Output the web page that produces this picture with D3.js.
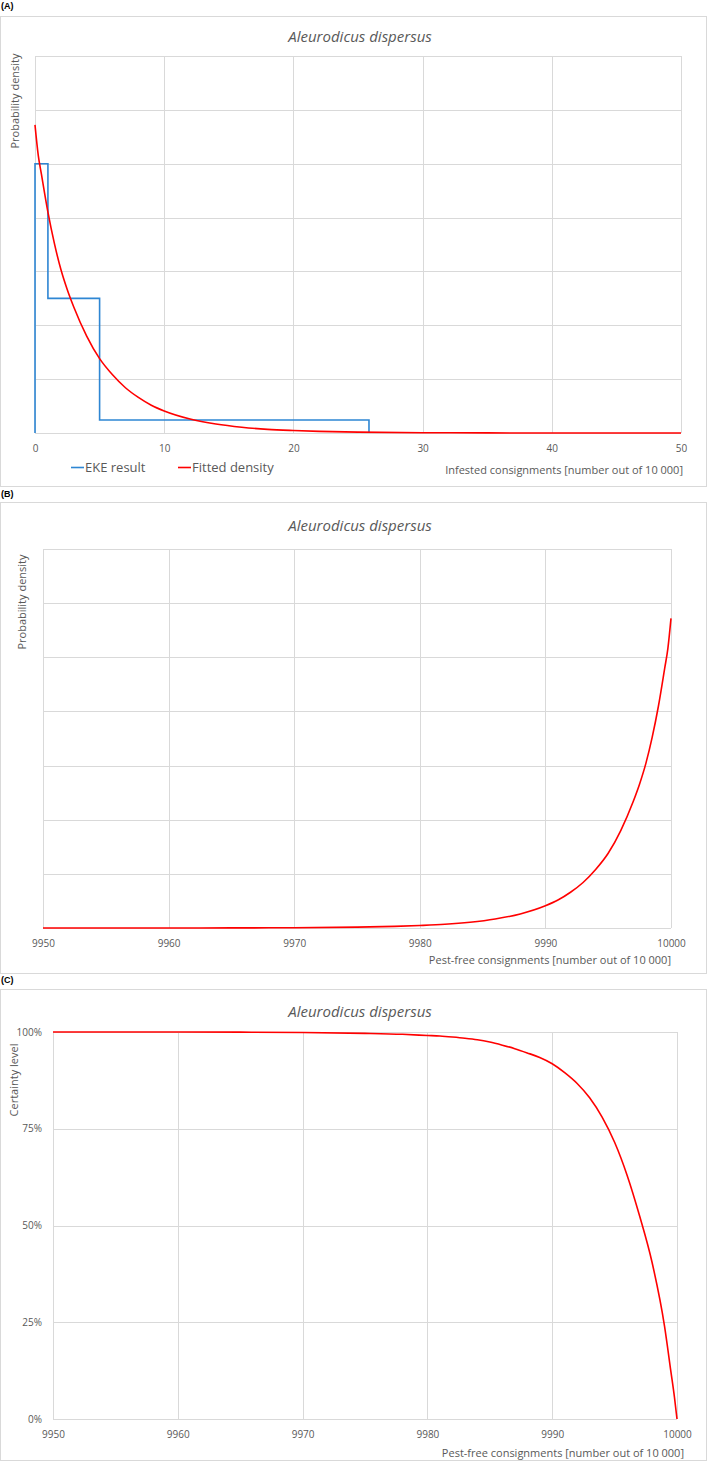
<!DOCTYPE html>
<html>
<head>
<meta charset="utf-8">
<script src="https://cdn.jsdelivr.net/npm/d3@7"></script>
<style>
  body { margin: 0; background: #fff; }
  text { font-family: 'Open Sans', sans-serif; fill: #595959; }
</style>
</head>
<body>
<svg id="chart" width="709" height="1461"></svg>
<script>
// EKE result (step histogram of elicited quantiles)
const ekeEdges = [0, 1, 5, 25.85];
const ekeHeights = [0.25, 0.125, 0.012];

// Fitted density, infested consignments out of 10 000
const infested = [0, 0.25, 0.5, 1, 1.5, 2, 2.5, 3, 4, 5, 6, 7, 8, 9, 10, 12, 14, 16, 18, 20, 22, 25, 30, 35, 40, 50];
const fittedDensity = [0.286, 0.258, 0.240, 0.205, 0.176, 0.152, 0.133, 0.117, 0.090, 0.069, 0.054, 0.042, 0.033, 0.0258,
  0.0205, 0.0130, 0.0083, 0.0053, 0.0034, 0.0023, 0.0015, 0.0008, 0.0003, 0.0001, 0.00003, 0];

// Certainty level vs pest-free consignments
const pestFree = [9950, 9960, 9965, 9970, 9975, 9978, 9980, 9981, 9982, 9983, 9984, 9985, 9986, 9987, 9988, 9989, 9990,
  9991, 9992, 9993, 9994, 9995, 9996, 9997, 9998, 9999, 9999.5, 9999.8, 10000];
const certainty = [1, 0.9999, 0.9996, 0.9988, 0.9965, 0.994, 0.991, 0.9895, 0.987, 0.984, 0.980, 0.974, 0.966, 0.957, 0.946,
  0.934, 0.918, 0.895, 0.867, 0.83, 0.78, 0.715, 0.63, 0.525, 0.405, 0.24, 0.125, 0.055, 0];

const xTicksA = [0, 10, 20, 30, 40, 50];
const xTicksB = [9950, 9960, 9970, 9980, 9990, 10000];
const densityGrid = [0, 0.05, 0.1, 0.15, 0.2, 0.25, 0.3, 0.35];
const certaintyTicks = [0, 0.25, 0.5, 0.75, 1];

const title = 'Aleurodicus dispersus';
const gridColor = '#d9d9d9';
const blue = '#2e86d3';
const red = '#ff0000';

const svg = d3.select('#chart');

function drawPanel(p) {
  const g = svg.append('g');

  g.append('text')
    .attr('x', 1)
    .attr('y', p.labelY)
    .style('font-family', 'Liberation Sans, Arial, sans-serif')
    .style('font-weight', 'bold')
    .style('font-size', '9px')
    .style('fill', '#000')
    .text(p.label);

  g.append('rect')
    .attr('x', 0.5)
    .attr('y', p.boxTop + 0.5)
    .attr('width', 706)
    .attr('height', p.boxBottom - p.boxTop)
    .style('fill', 'none')
    .style('stroke', gridColor);

  g.append('text')
    .attr('x', 360)
    .attr('y', p.titleY)
    .attr('text-anchor', 'middle')
    .style('font-size', '15px')
    .style('font-style', 'italic')
    .text(title);

  const x = d3.scaleLinear().domain(p.xDomain).range([p.left, p.right]);
  const y = d3.scaleLinear().domain(p.yDomain).range([p.bottom, p.top]);

  // gridlines
  g.selectAll('.hgrid')
    .data(p.yGrid)
    .join('line')
    .attr('x1', p.left).attr('x2', p.right)
    .attr('y1', d => Math.round(y(d)) + 0.5).attr('y2', d => Math.round(y(d)) + 0.5)
    .style('stroke', gridColor);

  g.selectAll('.vgrid')
    .data(p.xTicks)
    .join('line')
    .attr('x1', d => Math.round(x(d)) + 0.5).attr('x2', d => Math.round(x(d)) + 0.5)
    .attr('y1', p.top).attr('y2', p.bottom)
    .style('stroke', gridColor);

  const xAxis = g.append('g')
    .attr('transform', `translate(0,${p.bottom})`)
    .call(d3.axisBottom(x).tickValues(p.xTicks).tickSize(0).tickPadding(12).tickFormat(d3.format('d')));
  xAxis.select('.domain').remove();
  xAxis.selectAll('text').style('font-size', '10px').style('fill', '#595959')
    .style('font-family', "'Open Sans', sans-serif");

  if (p.yTickFormat) {
    const yAxis = g.append('g')
      .attr('transform', `translate(${p.left},0)`)
      .call(d3.axisLeft(y).tickValues(p.yGrid).tickSize(0).tickPadding(11).tickFormat(p.yTickFormat));
    yAxis.select('.domain').remove();
    yAxis.selectAll('text').style('font-size', '10px').style('fill', '#595959')
      .style('font-family', "'Open Sans', sans-serif");
  }

  g.append('text')
    .attr('transform', `translate(${p.yTitleX},${p.yTitleY}) rotate(-90)`)
    .attr('text-anchor', 'middle')
    .attr('dy', '0.35em')
    .style('font-size', '11px')
    .text(p.yTitle);

  g.append('text')
    .attr('x', p.xTitleRight)
    .attr('y', p.xTitleY)
    .attr('text-anchor', 'end')
    .style('font-size', '11px')
    .text(p.xTitle);

  return {g, x, y};
}

// (A) infested consignments
const a = drawPanel({
  label: '(A)', labelY: 9, boxTop: 16, boxBottom: 486, titleY: 42,
  left: 35, right: 681, top: 56, bottom: 433,
  xDomain: [0, 50], yDomain: [0, 0.35], xTicks: xTicksA, yGrid: densityGrid,
  yTitle: 'Probability density', yTitleX: 15, yTitleY: 101,
  xTitle: 'Infested consignments [number out of 10 000]', xTitleRight: 683, xTitleY: 474
});

const ekePts = [[ekeEdges[0], 0]];
ekeHeights.forEach((h, i) => {
  ekePts.push([ekeEdges[i], h]);
  ekePts.push([ekeEdges[i + 1], h]);
});
ekePts.push([ekeEdges[ekeEdges.length - 1], 0]);

a.g.append('path')
  .datum(ekePts)
  .attr('d', d3.line().x(d => a.x(d[0])).y(d => a.y(d[1])))
  .style('fill', 'none')
  .style('stroke', blue)
  .style('stroke-width', 1.6);

a.g.append('path')
  .datum(infested.map((v, i) => [v, fittedDensity[i]]))
  .attr('d', d3.line().curve(d3.curveMonotoneX).x(d => a.x(d[0])).y(d => a.y(d[1])))
  .style('fill', 'none')
  .style('stroke', red)
  .style('stroke-width', 1.6);

// legend
const legend = [
  {name: 'EKE result', color: blue, x: 71},
  {name: 'Fitted density', color: red, x: 178}
];
legend.forEach(l => {
  a.g.append('line')
    .attr('x1', l.x).attr('x2', l.x + 13)
    .attr('y1', 467.5).attr('y2', 467.5)
    .style('stroke', l.color).style('stroke-width', 1.6);
  a.g.append('text')
    .attr('x', l.x + 14)
    .attr('y', 472)
    .style('font-size', '13px')
    .text(l.name);
});

// (B) pest-free consignments, density
const b = drawPanel({
  label: '(B)', labelY: 497, boxTop: 502, boxBottom: 973, titleY: 531,
  left: 43, right: 671, top: 549, bottom: 928,
  xDomain: [9950, 10000], yDomain: [0, 0.35], xTicks: xTicksB, yGrid: densityGrid,
  yTitle: 'Probability density', yTitleX: 22, yTitleY: 602,
  xTitle: 'Pest-free consignments [number out of 10 000]', xTitleRight: 671, xTitleY: 964
});

b.g.append('path')
  .datum(infested.map((v, i) => [10000 - v, fittedDensity[i]]))
  .attr('d', d3.line().curve(d3.curveMonotoneX).x(d => b.x(d[0])).y(d => b.y(d[1])))
  .style('fill', 'none')
  .style('stroke', red)
  .style('stroke-width', 1.6);

// (C) certainty level
const c = drawPanel({
  label: '(C)', labelY: 983, boxTop: 989, boxBottom: 1460, titleY: 1017,
  left: 53, right: 677, top: 1032, bottom: 1419,
  xDomain: [9950, 10000], yDomain: [0, 1], xTicks: xTicksB, yGrid: certaintyTicks,
  yTickFormat: d3.format('.0%'),
  yTitle: 'Certainty level', yTitleX: 14, yTitleY: 1080,
  xTitle: 'Pest-free consignments [number out of 10 000]', xTitleRight: 684, xTitleY: 1457
});

c.g.append('path')
  .datum(pestFree.map((v, i) => [v, certainty[i]]))
  .attr('d', d3.line().curve(d3.curveMonotoneX).x(d => c.x(d[0])).y(d => c.y(d[1])))
  .style('fill', 'none')
  .style('stroke', red)
  .style('stroke-width', 1.6);
</script>
</body>
</html>
